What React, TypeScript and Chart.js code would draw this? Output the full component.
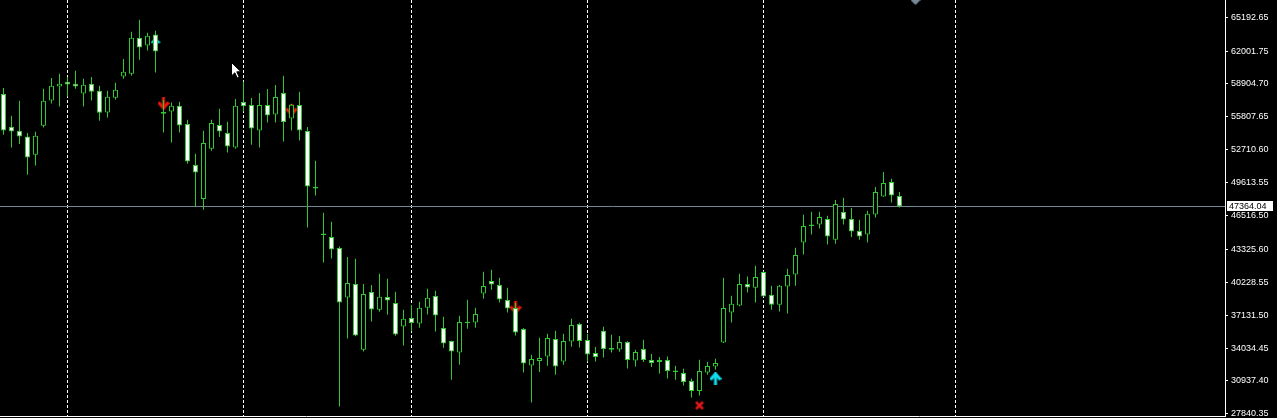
import React, { useEffect, useRef } from 'react';
import { Chart, registerables } from 'chart.js';

Chart.register(...registerables);

// ---- data (bar index 0 = leftmost candle) ----
const OPEN = [
  57948, 54869, 54492, 53955, 52232, 54963, 57345, 58663, 59106, 58918,
  58004, 58918, 58258, 56215, 57599, 59605, 59859, 63249, 62524, 63560,
  56253, 56309, 56846, 55123, 51262, 48061, 52797, 55029, 54276, 52920,
  57194, 56912, 54520, 56912, 56027, 58042, 55650, 56912, 54464, 49219,
  44822, 44483, 43447, 38796, 40057, 33871, 39304, 37637, 38833, 38268,
  36065, 36856, 36347, 37826, 38927, 35914, 34690, 33617, 36507, 36442,
  39172, 40340, 39963, 38551, 37797, 35820, 32393, 32807, 33240, 34878,
  32769, 34652, 36291, 34784, 33560, 35660, 34031, 33899, 34596, 32863,
  33937, 32901, 32713, 32901, 31922, 31677, 30924, 29982, 31734, 32298,
  34558, 37383, 38042, 40057, 39709, 41187, 39050, 38108, 39831, 40961,
  43974, 45669, 45669, 46178, 44229, 46837, 46178, 45048, 44728, 46611,
  48306, 49662, 48343,
];
const HIGH = [
  58513, 55904, 57317, 54276, 54398, 58447, 59454, 59859, 59548, 60142,
  59388, 59548, 58729, 58258, 59012, 61243, 63814, 64944, 63720, 63908,
  57411, 57157, 57223, 55528, 52326, 54492, 55528, 56564, 55340, 57477,
  59106, 57571, 58042, 58419, 58795, 59671, 57034, 58164, 54840, 51667,
  46771, 45923, 43598, 42600, 42440, 40057, 39963, 41027, 40556, 39332,
  37637, 38080, 38391, 39615, 39426, 36978, 34718, 37072, 38579, 37826,
  41215, 41404, 40650, 39709, 38268, 35914, 33400, 35001, 35378, 35660,
  35378, 36790, 36413, 35378, 34125, 36037, 35283, 35161, 34690, 33871,
  34813, 33466, 33184, 33240, 32364, 32082, 31169, 32929, 32741, 33024,
  40650, 38956, 41027, 40773, 41780, 41244, 39897, 39963, 41498, 43475,
  46583, 46865, 46865, 46488, 47967, 48183, 47213, 46112, 46959, 49191,
  50603, 49972, 48720,
];
const LOW = [
  54115, 52920, 53240, 50349, 51225, 54803, 57063, 56780, 57722, 58447,
  56780, 57345, 55434, 55744, 57411, 59388, 59671, 61177, 62053, 59982,
  54332, 53390, 54332, 51385, 47364, 47053, 52609, 53899, 52449, 52797,
  56309, 53174, 52920, 55274, 55274, 53484, 54520, 53579, 45387, 48400,
  42091, 42468, 28532, 34935, 35142, 33711, 36536, 37449, 37167, 35189,
  34276, 35594, 35942, 37195, 35594, 34059, 31046, 32459, 35848, 35942,
  38673, 39521, 38325, 37383, 35217, 31734, 28909, 31771, 32364, 31517,
  32459, 34153, 34088, 32769, 32769, 33146, 33617, 33683, 32110, 32298,
  32713, 32242, 31639, 31169, 31046, 30509, 29380, 29568, 31517, 31988,
  34500, 36442, 37967, 39266, 38325, 38833, 37637, 37477, 37289, 39897,
  42844, 44728, 45293, 43786, 43852, 45669, 44483, 44229, 43974, 46328,
  48280, 47741, 47270,
];
const CLOSE = [
  54520, 54426, 53955, 51978, 54021, 57317, 58729, 58918, 58852, 58663,
  58823, 58164, 56187, 57693, 58353, 60047, 63249, 62336, 63437, 61959,
  56100, 56846, 54991, 51601, 50566, 53334, 55217, 54426, 53014, 56846,
  56799, 54709, 56912, 55933, 57665, 55311, 56940, 54520, 49247, 49070,
  44670, 43315, 38325, 40151, 35217, 39116, 37666, 38861, 38513, 35312,
  36790, 36385, 37826, 38767, 37101, 34464, 33711, 36479, 36360, 37232,
  39869, 40020, 38607, 37760, 35500, 32581, 32995, 33089, 34973, 32298,
  34690, 36197, 34690, 33428, 33184, 33937, 33880, 34596, 32901, 33654,
  32901, 32619, 32901, 31865, 31770, 30830, 29982, 31865, 32336, 32619,
  37797, 38202, 40057, 39737, 40716, 38890, 38108, 39897, 40905, 42788,
  45519, 45520, 46366, 44539, 47590, 46140, 45010, 44539, 46677, 48720,
  49567, 48400, 47364.04,
];

const PRICE_TICKS = [
  65192.65, 62001.75, 58904.7, 55807.65, 52710.6, 49613.55, 46516.5,
  43325.6, 40228.55, 37131.5, 34034.45, 30937.4, 27840.35,
];
const PERIOD_SEPARATORS = [8, 30, 51, 73, 95, 119];
const LAST_PRICE = 47364.04;

const SELL_ARROWS = [
  { x: 20, y: 57044 },
  { x: 36, y: 56450 },
  { x: 64, y: 37807 },
];
const BUY_ARROWS = [
  { x: 19, y: 62853 },
  { x: 89, y: 31150 },
];
const CLOSE_MARKS = [{ x: 87, y: 28626 }];
const DIAMONDS = [{ x: 114, y: 66808 }];
const CURSOR = [{ x: 29.125, y: 60170 }];

const Y_MIN = 27590;
const Y_MAX = 66808;
const X_MIN = -0.4375;
const X_MAX = 152.6875;

const GREEN = '#32c832';

function makeCanvas(w: number, h: number, draw: (c: CanvasRenderingContext2D) => void) {
  const c = document.createElement('canvas');
  c.width = w;
  c.height = h;
  const ctx = c.getContext('2d')!;
  draw(ctx);
  return c;
}

export default function App() {
  const ref = useRef<HTMLCanvasElement>(null);

  useEffect(() => {
    const canvas = ref.current;
    if (!canvas) return;

    const downArrow = makeCanvas(12, 13, (ctx) => {
      ctx.strokeStyle = '#e8180c';
      ctx.lineWidth = 3;
      ctx.beginPath();
      ctx.moveTo(6, 0);
      ctx.lineTo(6, 11);
      ctx.stroke();
      ctx.beginPath();
      ctx.moveTo(1, 5);
      ctx.lineTo(6, 11);
      ctx.lineTo(11, 5);
      ctx.stroke();
    });
    const upArrow = makeCanvas(12, 13, (ctx) => {
      ctx.strokeStyle = '#10dcec';
      ctx.lineWidth = 3;
      ctx.beginPath();
      ctx.moveTo(6, 2);
      ctx.lineTo(6, 13);
      ctx.stroke();
      ctx.beginPath();
      ctx.moveTo(1, 7.5);
      ctx.lineTo(6, 1.5);
      ctx.lineTo(11, 7.5);
      ctx.stroke();
    });
    const smallUpArrow = makeCanvas(10, 10, (ctx) => {
      ctx.strokeStyle = '#10dcec';
      ctx.lineWidth = 2;
      ctx.beginPath();
      ctx.moveTo(5, 2);
      ctx.lineTo(5, 10);
      ctx.moveTo(1, 6);
      ctx.lineTo(5, 1.5);
      ctx.lineTo(9, 6);
      ctx.stroke();
    });
    const xMark = makeCanvas(10, 10, (ctx) => {
      ctx.strokeStyle = '#e01818';
      ctx.lineWidth = 2.6;
      ctx.beginPath();
      ctx.moveTo(1.5, 1.5);
      ctx.lineTo(8.5, 8.5);
      ctx.moveTo(8.5, 1.5);
      ctx.lineTo(1.5, 8.5);
      ctx.stroke();
    });
    const diamond = makeCanvas(10, 10, (ctx) => {
      ctx.fillStyle = '#778899';
      ctx.beginPath();
      ctx.moveTo(5, 0);
      ctx.lineTo(10, 5);
      ctx.lineTo(5, 10);
      ctx.lineTo(0, 5);
      ctx.closePath();
      ctx.fill();
    });
    const cursor = makeCanvas(11, 17, (ctx) => {
      ctx.fillStyle = '#ffffff';
      ctx.strokeStyle = '#000000';
      ctx.lineWidth = 1;
      ctx.beginPath();
      ctx.moveTo(0.5, 0.5);
      ctx.lineTo(0.5, 14);
      ctx.lineTo(3.8, 10.8);
      ctx.lineTo(6.2, 16);
      ctx.lineTo(8.2, 15);
      ctx.lineTo(5.8, 9.8);
      ctx.lineTo(10, 9.8);
      ctx.closePath();
      ctx.fill();
      ctx.stroke();
    });

    const idx = OPEN.map((_, i) => i);
    const bodies = idx.map((i) => ({ x: i, y: [OPEN[i], CLOSE[i]] }));
    const wicks = idx.map((i) => ({ x: i, y: [LOW[i], HIGH[i]] }));
    const fills = idx.map((i) => (CLOSE[i] > OPEN[i] ? '#000000' : '#ffffff'));

    const priceLabel = {
      id: 'priceLabel',
      afterDraw(chart: any) {
        const { ctx, chartArea, scales } = chart;
        const y = scales.y.getPixelForValue(LAST_PRICE);
        const top = Math.round(y - 5.5);
        ctx.save();
        ctx.fillStyle = '#ffffff';
        ctx.fillRect(chartArea.right + 2, top, 46, 10);
        ctx.fillStyle = '#000000';
        ctx.font = '9px "Liberation Sans", Arial, sans-serif';
        ctx.textBaseline = 'middle';
        ctx.textAlign = 'left';
        ctx.fillText(LAST_PRICE.toFixed(2), chartArea.right + 4, top + 5.5);
        ctx.restore();
      },
    };

    const markerBase = {
      type: 'scatter' as const,
      pointRadius: 6,
      clip: false as any,
    };

    const chart = new Chart(canvas, {
      type: 'bar',
      data: {
        datasets: [
          {
            type: 'scatter',
            data: CURSOR,
            pointStyle: cursor as any,
            pointRadius: 8,
            order: -1,
            clip: false as any,
          } as any,
          {
            label: 'bodies',
            data: bodies as any,
            backgroundColor: fills,
            borderColor: GREEN,
            borderWidth: 1,
            borderSkipped: false,
            barThickness: 5,
            grouped: false,
            inflateAmount: 0,
            order: 0,
          } as any,
          {
            label: 'wicks',
            data: wicks as any,
            backgroundColor: GREEN,
            borderWidth: 0,
            barThickness: 1,
            grouped: false,
            inflateAmount: 0,
            order: 1,
          } as any,
          { ...markerBase, data: SELL_ARROWS, pointStyle: downArrow as any, order: 2 } as any,
          { ...markerBase, data: [BUY_ARROWS[0]], pointStyle: smallUpArrow as any, order: 2 } as any,
          { ...markerBase, data: [BUY_ARROWS[1]], pointStyle: upArrow as any, order: 2 } as any,
          { ...markerBase, data: CLOSE_MARKS, pointStyle: xMark as any, order: 2 } as any,
          { ...markerBase, data: DIAMONDS, pointStyle: diamond as any, order: 2 } as any,
          {
            type: 'line',
            data: [
              { x: X_MIN, y: LAST_PRICE },
              { x: X_MAX, y: LAST_PRICE },
            ],
            borderColor: '#778899',
            borderWidth: 1,
            pointRadius: 0,
            order: 3,
          } as any,
        ],
      },
      options: {
        animation: false,
        responsive: false,
        devicePixelRatio: 1,
        events: [],
        layout: { autoPadding: false, padding: { left: 0, right: 0, top: 0, bottom: 1.5 } },
        plugins: { legend: { display: false }, tooltip: { enabled: false } },
        scales: {
          x: {
            type: 'linear',
            min: X_MIN,
            max: X_MAX,
            offset: false,
            grid: { color: '#ffffff', lineWidth: 1, drawTicks: false, offset: false },
            border: { display: true, color: '#ffffff', width: 1, dash: [3, 2] },
            ticks: { display: false },
            afterBuildTicks: (s: any) => {
              s.ticks = PERIOD_SEPARATORS.map((v) => ({ value: v }));
            },
            afterFit: (s: any) => {
              s.paddingLeft = 0;
              s.paddingRight = 0;
              s.paddingTop = 0;
              s.paddingBottom = 0;
            },
          },
          y: {
            type: 'linear',
            position: 'right',
            min: Y_MIN,
            max: Y_MAX,
            grid: { drawOnChartArea: false, drawTicks: true, tickLength: 3, color: '#ffffff' },
            border: { display: true, color: '#ffffff', width: 1 },
            ticks: {
              color: '#ffffff',
              autoSkip: false,
              padding: 3,
              crossAlign: 'near',
              font: { family: '"Liberation Sans", Arial, sans-serif', size: 9 },
              callback: (v: any) => Number(v).toFixed(2),
            },
            afterBuildTicks: (s: any) => {
              s.ticks = PRICE_TICKS.map((v) => ({ value: v }));
            },
            afterFit: (s: any) => {
              s.width = 52;
              s.paddingLeft = 0;
              s.paddingRight = 0;
              s.paddingTop = 0;
              s.paddingBottom = 0;
            },
          },
        },
      } as any,
      plugins: [priceLabel],
    });

    return () => chart.destroy();
  }, []);

  return (
    <div
      style={{
        position: 'fixed',
        left: 0,
        top: 0,
        width: 1277,
        height: 418,
        background: '#000000',
      }}
    >
      <canvas ref={ref} width={1277} height={418} style={{ display: 'block' }} />
    </div>
  );
}
